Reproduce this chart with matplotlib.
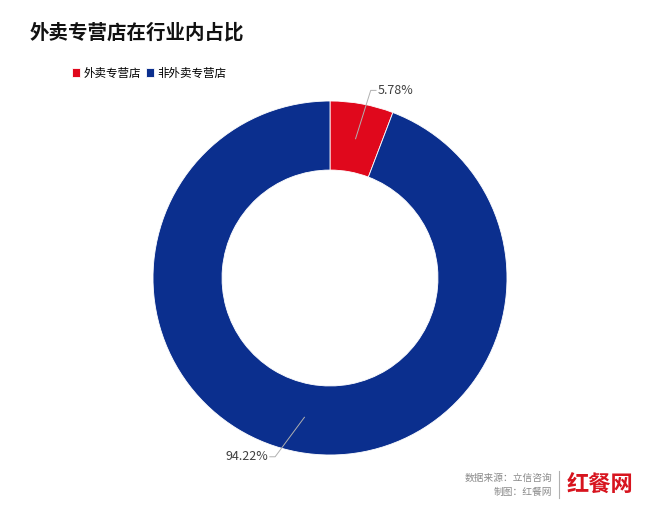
import numpy as np
import matplotlib.pyplot as plt

plt.rcParams['font.family'] = ['Noto Sans CJK SC', 'DejaVu Sans']

# Data
labels = ['外卖专营店', '非外卖专营店']
values = [5.78, 94.22]
colors = ['#E0081C', '#0B2F8E']

fig = plt.figure(figsize=(6.6, 5.16), dpi=100)
fig.patch.set_facecolor('white')

# donut: center (330, 278) px, outer radius ~177 px
W, H = 660, 516
cx, cy, r = 330, 278, 177
ax = fig.add_axes([(cx - r) / W, 1 - (cy + r) / H, 2 * r / W, 2 * r / H])
wedges, _ = ax.pie(values, colors=colors, startangle=90, counterclock=False,
                   radius=1.0, wedgeprops=dict(width=0.39, edgecolor='white', linewidth=0.6))
ax.set_aspect('equal')
ax.set_xlim(-1, 1)
ax.set_ylim(-1, 1)
ax.axis('off')

# value labels with leader lines
angles = []
start = 90
for v in values:
    mid = start - v / 100 * 360 / 2
    angles.append(mid)
    start -= v / 100 * 360

lab_pos = [(0.23, 1.06), (-0.31, -1.01)]
for v, a, (lx, ly) in zip(values, angles, lab_pos):
    rad = np.deg2rad(a)
    px, py = 0.8 * np.cos(rad), 0.8 * np.sin(rad)
    txt = f'{v:.2f}%'
    if lx > 0:
        ax.plot([px, lx, lx + 0.03], [py, ly, ly], color='#B0B0B0', lw=0.7, clip_on=False)
        ax.text(lx + 0.04, ly, txt, fontsize=9, color='#404040', va='center', ha='left')
    else:
        ax.plot([px, lx, lx - 0.03], [py, ly, ly], color='#B0B0B0', lw=0.7, clip_on=False)
        ax.text(lx - 0.04, ly, txt, fontsize=9, color='#404040', va='center', ha='right')

# title
fig.text(30 / W, 1 - 33 / H, '外卖专营店在行业内占比', fontsize=14, fontweight='bold',
         color='#111111', ha='left', va='center')

# legend
fig.legend(handles=wedges, labels=labels, loc='center left', bbox_to_anchor=(72 / W, 1 - 73 / H),
           ncol=2, frameon=False, fontsize=8.3, handlelength=0.7, handleheight=0.7,
           handletextpad=0.3, columnspacing=0.4, borderaxespad=0, borderpad=0)

# footer
fig.text(552 / W, 1 - 478 / H, '数据来源：立信咨询', fontsize=7, color='#8A8A8A', ha='right', va='center')
fig.text(552 / W, 1 - 492 / H, '制图：红餐网', fontsize=7, color='#8A8A8A', ha='right', va='center')
fig.add_artist(plt.Line2D([559 / W, 559 / W], [1 - 498 / H, 1 - 471 / H], color='#B0B0B0', lw=0.8))
fig.text(567 / W, 1 - 485 / H, '红餐网', fontsize=16, fontweight='bold', color='#D7141E',
         ha='left', va='center')

fig.savefig('out.png', dpi=100, facecolor='white')
